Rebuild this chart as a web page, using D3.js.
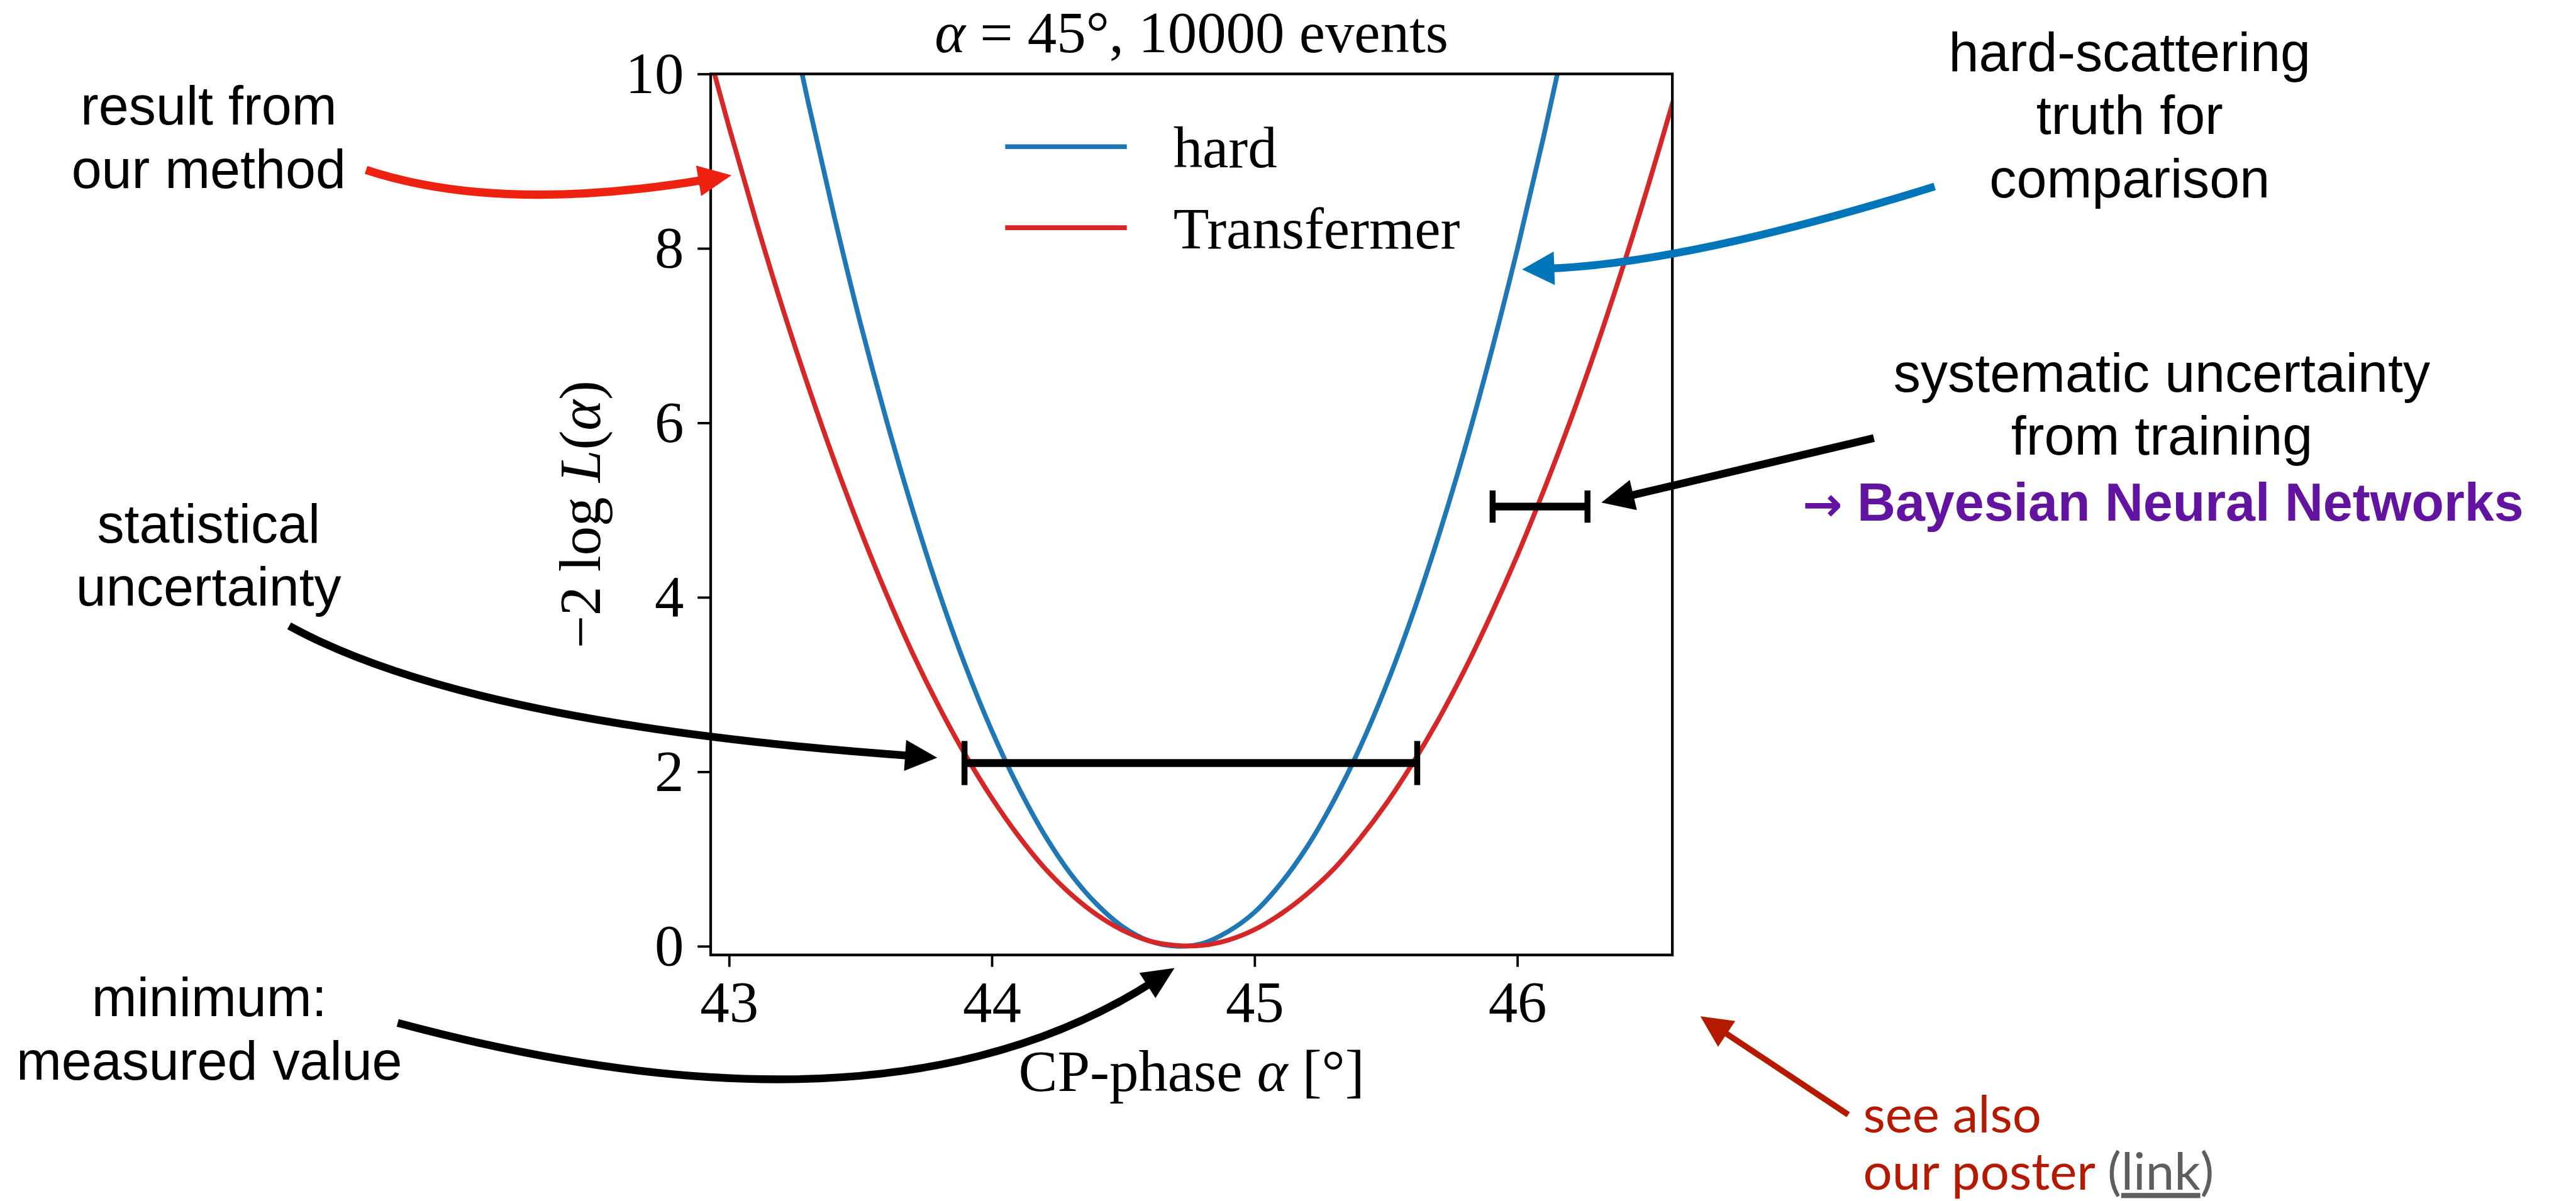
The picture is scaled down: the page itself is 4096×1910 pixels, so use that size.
<!DOCTYPE html>
<html>
<head>
<meta charset="utf-8">
<script src="https://cdn.jsdelivr.net/npm/d3@7"></script>
<style>
  html, body { margin: 0; padding: 0; background: #fff; }
  svg { display: block; }
</style>
</head>
<body>
<script>
// -2 log L scans
const hardAlpha = [43.2, 43.3, 43.4, 43.5, 43.6, 43.7, 43.8, 43.9, 44.0, 44.1, 44.2, 44.3, 44.4, 44.5, 44.6,
  44.7, 44.8, 44.9, 45.0, 45.1, 45.2, 45.3, 45.4, 45.5, 45.6, 45.7, 45.8, 45.9, 46.0, 46.1, 46.2];
const hardNll = [11.11, 9.69, 8.37, 7.14, 6.02, 4.99, 4.05, 3.21, 2.47, 1.83, 1.28, 0.83, 0.48, 0.22, 0.06,
  0.00, 0.03, 0.17, 0.39, 0.72, 1.14, 1.66, 2.27, 2.98, 3.79, 4.70, 5.70, 6.80, 7.99, 9.28, 10.67];

const transAlpha = [42.9, 43.0, 43.1, 43.2, 43.3, 43.4, 43.5, 43.6, 43.7, 43.8, 43.9, 44.0, 44.1, 44.2, 44.3,
  44.4, 44.5, 44.6, 44.7, 44.8, 44.9, 45.0, 45.1, 45.2, 45.3, 45.4, 45.5, 45.6, 45.7, 45.8, 45.9, 46.0,
  46.1, 46.2, 46.3, 46.4, 46.5, 46.6];
const transNll = [10.50, 9.39, 8.34, 7.35, 6.43, 5.57, 4.77, 4.03, 3.35, 2.74, 2.19, 1.70, 1.27, 0.90, 0.60,
  0.36, 0.18, 0.06, 0.01, 0.01, 0.07, 0.19, 0.37, 0.60, 0.88, 1.23, 1.63, 2.09, 2.60, 3.17, 3.80, 4.48,
  5.22, 6.01, 6.86, 7.77, 8.74, 9.76];

const seriesNames = ['hard', 'Transfermer'];
const seriesColors = ['#1f77b4', '#d62728'];

const xTicks = [43, 44, 45, 46];
const yTicks = [0, 2, 4, 6, 8, 10];
const xDomain = [42.93, 46.59];
const yDomain = [-0.1, 10];

// error bars: [alpha low, alpha high, level]
const statBar = [43.896, 45.619, 2.10];
const systBar = [45.906, 46.267, 5.04];

const SERIF = '"Liberation Serif", "DejaVu Serif", serif';
const SANS = '"Liberation Sans", Arial, Helvetica, sans-serif';
const POSTER = 'Lato, "Open Sans", sans-serif';

const K = 0.948; // reference -> window
const svg = d3.select('body').append('svg')
  .attr('width', 4096)
  .attr('height', 1910);
svg.append('rect').attr('width', 4096).attr('height', 1910).attr('fill', '#fff');

const root = svg.append('g').attr('transform', `scale(${K})`);

// plot box, in reference pixels
const box = {left: 1192, right: 2805, top: 124, bottom: 1602};

const x = d3.scaleLinear().domain(xDomain).range([box.left, box.right]);
const y = d3.scaleLinear().domain(yDomain).range([box.bottom, box.top]);

root.append('clipPath').attr('id', 'plot-clip')
  .append('rect')
  .attr('x', box.left).attr('y', box.top)
  .attr('width', box.right - box.left).attr('height', box.bottom - box.top);

// axes
const gx = root.append('g')
  .attr('transform', `translate(0,${box.bottom})`)
  .call(d3.axisBottom(x).tickValues(xTicks).tickSize(20).tickPadding(23).tickFormat(d3.format('d')));
gx.select('.domain').remove();
gx.selectAll('line').attr('stroke', '#000').attr('stroke-width', 4);
gx.selectAll('text').attr('font-family', SERIF).attr('font-size', 98).attr('fill', '#000');

const gy = root.append('g')
  .attr('transform', `translate(${box.left},0)`)
  .call(d3.axisLeft(y).tickValues(yTicks).tickSize(22).tickPadding(23).tickFormat(d3.format('d')));
gy.select('.domain').remove();
gy.selectAll('line').attr('stroke', '#000').attr('stroke-width', 4);
gy.selectAll('text').attr('font-family', SERIF).attr('font-size', 98).attr('fill', '#000');

// curves
const line = d3.line()
  .x(d => x(d[0]))
  .y(d => y(d[1]))
  .curve(d3.curveCatmullRom);

const series = [d3.zip(hardAlpha, hardNll), d3.zip(transAlpha, transNll)];
const curves = root.append('g').attr('clip-path', 'url(#plot-clip)');
series.forEach((pts, i) => {
  curves.append('path')
    .attr('d', line(pts))
    .attr('fill', 'none')
    .attr('stroke', seriesColors[i])
    .attr('stroke-width', 8)
    .attr('stroke-linejoin', 'round');
});

// error bars
function errorBar(bar, capH) {
  const g = root.append('g').attr('stroke', '#000');
  g.append('line')
    .attr('x1', x(bar[0])).attr('x2', x(bar[1]))
    .attr('y1', y(bar[2])).attr('y2', y(bar[2]))
    .attr('stroke-width', 13);
  [bar[0], bar[1]].forEach(v => {
    g.append('line')
      .attr('x1', x(v)).attr('x2', x(v))
      .attr('y1', y(bar[2]) - capH / 2).attr('y2', y(bar[2]) + capH / 2)
      .attr('stroke-width', 10);
  });
}
errorBar(statBar, 74);
errorBar(systBar, 54);

// frame
root.append('rect')
  .attr('x', box.left).attr('y', box.top)
  .attr('width', box.right - box.left).attr('height', box.bottom - box.top)
  .attr('fill', 'none').attr('stroke', '#000').attr('stroke-width', 4.5);

// legend (no frame)
const legend = root.append('g');
seriesNames.forEach((name, i) => {
  const ly = 246 + i * 136;
  legend.append('line')
    .attr('x1', 1686).attr('x2', 1890).attr('y1', ly).attr('y2', ly)
    .attr('stroke', seriesColors[i]).attr('stroke-width', 8);
  legend.append('text')
    .attr('x', 1968).attr('y', ly + 35)
    .attr('font-family', SERIF).attr('font-size', 98)
    .text(name);
});

// title
const title = root.append('text')
  .attr('x', (box.left + box.right) / 2).attr('y', 88)
  .attr('text-anchor', 'middle')
  .attr('font-family', SERIF).attr('font-size', 98);
title.append('tspan').attr('font-style', 'italic').text('α');
title.append('tspan').text(' = 45°, 10000 events');

// axis labels
const xl = root.append('text')
  .attr('x', (box.left + box.right) / 2).attr('y', 1830)
  .attr('text-anchor', 'middle')
  .attr('font-family', SERIF).attr('font-size', 98);
xl.append('tspan').text('CP-phase ');
xl.append('tspan').attr('font-style', 'italic').text('α');
xl.append('tspan').text(' [°]');

const yl = root.append('text')
  .attr('transform', `translate(1006,${(box.top + box.bottom) / 2}) rotate(-90)`)
  .attr('text-anchor', 'middle')
  .attr('font-family', SERIF).attr('font-size', 98);
yl.append('tspan').text('\u22122 log ');
yl.append('tspan').attr('font-style', 'italic').text('L');
yl.append('tspan').text('(');
yl.append('tspan').attr('font-style', 'italic').text('α');
yl.append('tspan').text(')');

// annotation arrows: start, optional quadratic control, tip
function arrow(p0, c, tip, o) {
  const from = c || p0;
  const dx = tip[0] - from[0], dy = tip[1] - from[1];
  const len = Math.hypot(dx, dy);
  const ux = dx / len, uy = dy / len;
  const base = [tip[0] - ux * o.head, tip[1] - uy * o.head];
  const end = [tip[0] - ux * o.head * 0.8, tip[1] - uy * o.head * 0.8];
  const p = d3.path();
  p.moveTo(p0[0], p0[1]);
  if (c) p.quadraticCurveTo(c[0], c[1], end[0], end[1]);
  else p.lineTo(end[0], end[1]);
  root.append('path')
    .attr('d', p.toString())
    .attr('fill', 'none')
    .attr('stroke', o.color)
    .attr('stroke-width', o.width);
  const hw = o.headW / 2;
  const pts = [tip, [base[0] - uy * hw, base[1] + ux * hw], [base[0] + uy * hw, base[1] - ux * hw]];
  root.append('polygon')
    .attr('points', pts.map(q => q.join(',')).join(' '))
    .attr('fill', o.color);
}

arrow([614, 285], [838, 359], [1227, 294], {color: '#ee2211', width: 14, head: 56, headW: 52});
arrow([3245, 313], [2830, 442], [2553, 452], {color: '#0076ba', width: 13, head: 54, headW: 56});
arrow([3143, 735], null, [2686, 843], {color: '#000', width: 13, head: 55, headW: 52});
arrow([485, 1050], [787, 1216], [1572, 1271], {color: '#000', width: 13, head: 54, headW: 52});
arrow([667, 1716], [1485, 1935], [1970, 1624], {color: '#000', width: 13, head: 54, headW: 50});
arrow([3100, 1870], null, [2852, 1705], {color: '#b31a00', width: 10, head: 53, headW: 52});

// annotation texts
function note(lines, cx, y0) {
  lines.forEach((t, i) => {
    root.append('text')
      .attr('x', cx).attr('y', y0 + i * 106)
      .attr('text-anchor', 'middle')
      .attr('font-family', SANS).attr('font-size', 91)
      .attr('fill', '#000')
      .text(t);
  });
}
note(['result from', 'our method'], 350, 209);
note(['hard-scattering', 'truth for', 'comparison'], 3572, 119);
note(['systematic uncertainty', 'from training'], 3626, 657);
note(['statistical', 'uncertainty'], 350, 910);
note(['minimum:', 'measured value'], 351, 1705);

const bnn = root.append('text')
  .attr('x', 3628).attr('y', 873)
  .attr('text-anchor', 'middle')
  .attr('font-family', SANS).attr('font-size', 89).attr('font-weight', 'bold')
  .attr('fill', '#6213a0');
bnn.append('tspan').attr('font-family', '"DejaVu Sans", sans-serif').attr('font-size', 80).text('\u2192');
bnn.append('tspan').text(' Bayesian Neural Networks');

root.append('text')
  .attr('x', 3125).attr('y', 1900)
  .attr('font-family', POSTER).attr('font-size', 86)
  .attr('fill', '#b31a00')
  .text('see also');
const poster = root.append('text')
  .attr('x', 3125).attr('y', 1996)
  .attr('font-family', POSTER).attr('font-size', 86)
  .attr('fill', '#b31a00');
poster.append('tspan').text('our poster ');
poster.append('tspan').attr('fill', '#5e5e5e').text('(');
poster.append('tspan').attr('fill', '#5e5e5e').style('text-decoration', 'underline').text('link');
poster.append('tspan').attr('fill', '#5e5e5e').text(')');
</script>
</body>
</html>
